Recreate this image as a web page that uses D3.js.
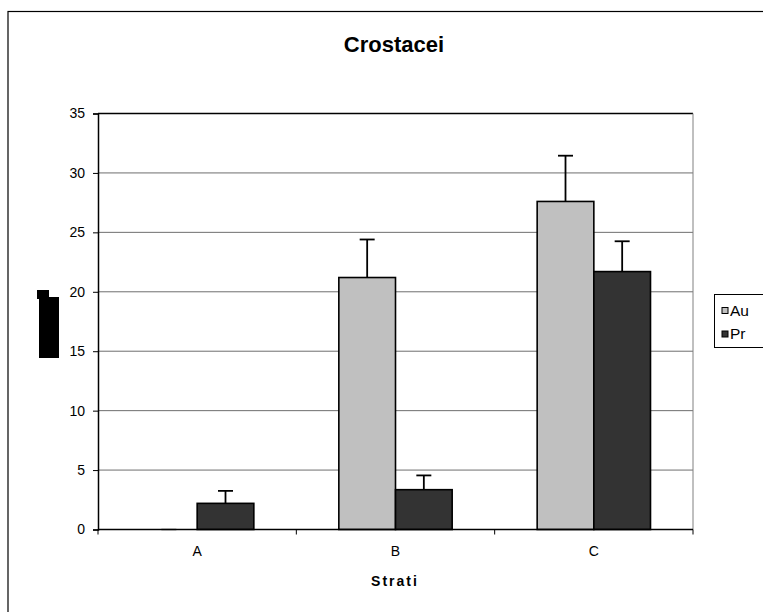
<!DOCTYPE html>
<html><head><meta charset="utf-8">
<script src="https://cdn.jsdelivr.net/npm/d3@7"></script>
<style>body{margin:0;background:#fff}svg{display:block}</style>
</head><body>
<script>
const categories = ["A", "B", "C"];
const seriesNames = ["Au", "Pr"];
const auValues = [0, 21.2, 27.6];
const auErrors = [0, 3.2, 3.85];
const prValues = [2.2, 3.35, 21.7];
const prErrors = [1.05, 1.2, 2.55];
const yTicks = [0, 5, 10, 15, 20, 25, 30, 35];
const colors = {Au: "#C0C0C0", Pr: "#333333"};

(function () {
const W = 763, H = 612;
const svg = d3.select("body").append("svg").attr("width", W).attr("height", H);
svg.append("rect").attr("width", W).attr("height", H).attr("fill", "#fff");

// outer chart border
svg.append("rect").attr("x", 8).attr("y", 11.5).attr("width", 800).attr("height", 700)
  .attr("fill", "none").attr("stroke", "#000").attr("stroke-width", 1.2);

const pLeft = 98, pRight = 693, pTop = 113.5, pBottom = 529.5;
const x = d3.scaleBand().domain(categories).range([pLeft, pRight]).padding(0);
const y = d3.scaleLinear().domain([0, 35]).range([pBottom, pTop]);
const barW = x.bandwidth() / 3.5;
const x1 = d3.scaleBand().domain(seriesNames).range([0, 2 * barW]).padding(0);

// gridlines
svg.append("g").selectAll("line").data(yTicks.filter(d => d > 0)).join("line")
  .attr("x1", pLeft).attr("x2", pRight).attr("y1", d => y(d)).attr("y2", d => y(d))
  .attr("stroke", d => d === 35 ? "#000" : "#6e6e6e").attr("stroke-width", d => d === 35 ? 1.5 : 1);
// right border of plot area
svg.append("line").attr("x1", pRight).attr("x2", pRight).attr("y1", pTop).attr("y2", pBottom)
  .attr("stroke", "#808080").attr("stroke-width", 1);

// bars
const data = categories.map((c, i) => ({c, vals: [
  {s: "Au", v: auValues[i], e: auErrors[i]},
  {s: "Pr", v: prValues[i], e: prErrors[i]}]}));
const groups = svg.append("g").selectAll("g").data(data).join("g")
  .attr("transform", d => `translate(${x(d.c) + 0.75 * barW},0)`);
groups.selectAll("rect").data(d => d.vals).join("rect")
  .attr("x", d => x1(d.s)).attr("width", x1.bandwidth())
  .attr("y", d => y(d.v)).attr("height", d => y(0) - y(d.v))
  .attr("fill", d => colors[d.s]).attr("stroke", "#000").attr("stroke-width", 1.6);
// error bars
groups.selectAll("line.err").data(d => d.vals).join("line").attr("class", "err")
  .attr("x1", d => x1(d.s) + x1.bandwidth() / 2).attr("x2", d => x1(d.s) + x1.bandwidth() / 2)
  .attr("y1", d => y(d.v)).attr("y2", d => y(d.v + d.e))
  .attr("stroke", "#000").attr("stroke-width", 1.8);
groups.selectAll("line.cap").data(d => d.vals).join("line").attr("class", "cap")
  .attr("x1", d => x1(d.s) + x1.bandwidth() / 2 - 7.5).attr("x2", d => x1(d.s) + x1.bandwidth() / 2 + 7.5)
  .attr("y1", d => y(d.v + d.e)).attr("y2", d => y(d.v + d.e))
  .attr("stroke", d => d.e === 0 ? "#999" : "#000").attr("stroke-width", 1.8);

// y axis
const yAxis = svg.append("g").attr("transform", `translate(${pLeft},0)`)
  .call(d3.axisLeft(y).tickValues(yTicks).tickSize(5).tickPadding(8));
yAxis.select(".domain").attr("stroke", "#000").attr("stroke-width", 1.5);
yAxis.selectAll(".tick line").attr("stroke", "#000");
yAxis.selectAll("text").attr("font-family", "Liberation Sans, Arial, sans-serif").attr("font-size", 14).attr("fill", "#000");

// x axis
const xAxisG = svg.append("g").attr("transform", `translate(0,${pBottom})`);
xAxisG.append("line").attr("x1", pLeft).attr("x2", pRight).attr("stroke", "#000").attr("stroke-width", 1.5);
const bounds = [pLeft, ...categories.map(c => x(c) + x.bandwidth())];
xAxisG.selectAll("line.t").data(bounds).join("line").attr("class", "t")
  .attr("x1", d => d).attr("x2", d => d).attr("y1", 0).attr("y2", 5).attr("stroke", "#000");
xAxisG.selectAll("text").data(categories).join("text")
  .attr("x", d => x(d) + x.bandwidth() / 2).attr("y", 26.5).attr("text-anchor", "middle")
  .attr("font-family", "Liberation Sans, Arial, sans-serif").attr("font-size", 14).text(d => d);

// axis title
svg.append("text").attr("x", 395).attr("y", 586).attr("text-anchor", "middle")
  .attr("font-family", "Liberation Sans, Arial, sans-serif").attr("font-size", 14).attr("font-weight", "bold")
  .attr("letter-spacing", 2).text("Strati");

// title
svg.append("text").attr("x", 394).attr("y", 52).attr("text-anchor", "middle")
  .attr("font-family", "Liberation Sans, Arial, sans-serif").attr("font-size", 22).attr("font-weight", "bold")
  .text("Crostacei");

// garbled y-axis title block
svg.append("rect").attr("x", 37).attr("y", 290).attr("width", 12).attr("height", 9).attr("fill", "#000");
svg.append("rect").attr("x", 39).attr("y", 297).attr("width", 20).attr("height", 61).attr("fill", "#000");

// legend
const lg = svg.append("g");
lg.append("rect").attr("x", 714.5).attr("y", 294.5).attr("width", 100).attr("height", 53)
  .attr("fill", "#fff").attr("stroke", "#000").attr("stroke-width", 1);
const li = lg.selectAll("g").data(seriesNames).join("g")
  .attr("transform", (d, i) => `translate(722,${307.5 + i * 23.5})`);
li.append("rect").attr("width", 6).attr("height", 6).attr("fill", d => colors[d])
  .attr("stroke", "#000").attr("stroke-width", 1);
li.append("text").attr("x", 8).attr("y", 8)
  .attr("font-family", "Liberation Sans, Arial, sans-serif").attr("font-size", 15.5).text(d => d);
})();
</script>
</body></html>
